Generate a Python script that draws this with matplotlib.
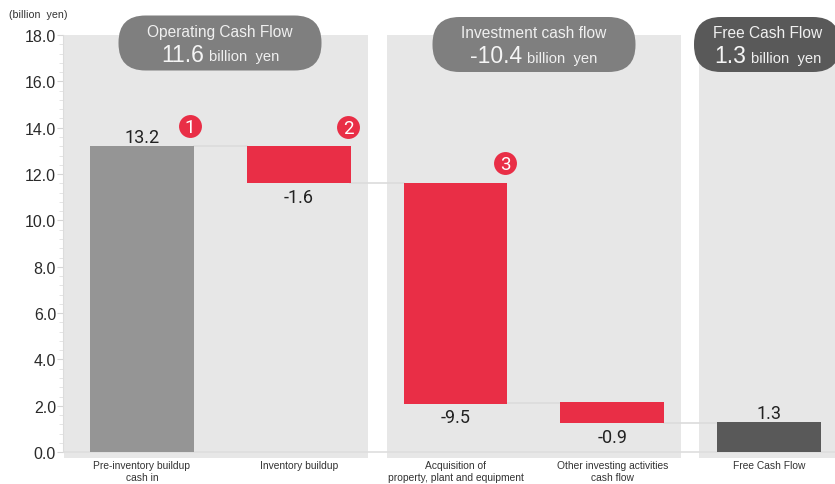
import matplotlib
matplotlib.use("Agg")
from matplotlib import pyplot as plt
from matplotlib.patches import FancyBboxPatch, Rectangle
from matplotlib.transforms import Affine2D

categories = ["Pre-inventory buildup\ncash in", "Inventory buildup",
              "Acquisition of\nproperty, plant and equipment",
              "Other investing activities\ncash flow", "Free Cash Flow"]
bar_bottoms = [0.0, 11.6, 2.1, 1.25, 0.0]
bar_heights = [13.2, 1.6, 9.5, 0.9, 1.3]
value_labels = ["13.2", "-1.6", "-9.5", "-0.9", "1.3"]
bar_colors = ["#959595", "#e92e46", "#e92e46", "#e92e46", "#595959"]
connector_levels = [13.2, 11.6, 2.12, 1.28]

pill_titles = ["Operating Cash Flow", "Investment cash flow", "Free Cash Flow"]
pill_values = ["11.6", "-10.4", "1.3"]
pill_colors = ["#7f7f7f", "#7f7f7f", "#595959"]

W, H = 835, 485
Y0, PX_UNIT = 453.2, 23.18


def x_data(px):
    return (px - 142) / 156.75


def y_data(py):
    return (Y0 - py) / PX_UNIT


fig = plt.figure(figsize=(W / 100, H / 100), dpi=100)
ax = fig.add_axes([63 / W, 1 - 459 / H, (W - 63) / W, (459 - 36) / H])
ax.set_xlim(x_data(63), x_data(835))
ax.set_ylim(y_data(459), 18)

# grey bands behind each group of bars
for left, right in [(64, 368), (387, 681), (699, 835)]:
    ax.add_patch(Rectangle((x_data(left), y_data(459)), x_data(right) - x_data(left),
                           18 - y_data(459), color="#e7e7e7", lw=0, zorder=0))

ax.axhline(0, color="#dedede", lw=1.2, zorder=1)

xs = list(range(len(categories)))
ax.bar(xs, bar_heights, bottom=bar_bottoms, width=0.663, color=bar_colors,
       edgecolor="none", zorder=3)

# connector lines between neighbouring bars
for i, level in enumerate(connector_levels):
    ax.plot([i + 0.33, i + 0.67], [level, level], color="#dcdcdc", lw=1.2, zorder=2)

value_font = ["Roboto", "DejaVu Sans"]
for i, lab in enumerate(value_labels):
    if lab.startswith("-"):
        ax.text(i, bar_bottoms[i] - 0.2, lab, ha="center", va="top", fontsize=13,
                family=value_font, color="#222222", zorder=4)
    else:
        ax.text(i, bar_bottoms[i] + bar_heights[i], lab, ha="center", va="bottom",
                fontsize=13, family=value_font, color="#222222", zorder=4)

# numbered markers
for num, px, py in [("1", 190, 127), ("2", 348, 128), ("3", 505, 164)]:
    ax.plot([x_data(px)], [y_data(py)], "o", ms=16.5, color="#e92e46", mew=0, zorder=5, clip_on=False)
    ax.text(x_data(px), y_data(py + 0.5), num, ha="center", va="center", fontsize=13.5,
            family=value_font, color="white", zorder=6)

# summary pills above the bands
pill_spans = [(118.5, 321.5, 16.5, 71.5), (432.5, 635.5, 18, 73), (694, 840, 18, 73)]
pill_centres = [220, 534, 768]
flip = Affine2D().scale(1, -1).translate(0, H)
r = fig.canvas.get_renderer()
for title, val, col, span, cx in zip(pill_titles, pill_values, pill_colors, pill_spans, pill_centres):
    left, right, y_top, y_bot = span
    pad = 27
    box = FancyBboxPatch((left + pad, y_top + pad), right - left - 2 * pad, y_bot - y_top - 2 * pad,
                         boxstyle="round,pad=%d,rounding_size=%d" % (pad, pad),
                         transform=flip, fc=col, ec="none", zorder=7, clip_on=False)
    ax.add_patch(box)
    fig.text(cx / W, 1 - (y_top + 15.5) / H, title, ha="center", va="center", fontsize=11.2,
             family="Liberation Sans", color="#f0f0f0", zorder=8)
    # big number followed by the unit, centred together
    big = fig.text(0, 1 - (y_top + 38.5) / H, val, ha="left", va="center", fontsize=16.5,
                   family="Liberation Sans", color="#f5f5f5", zorder=8)
    small = fig.text(0, 1 - (y_top + 41) / H, "billion  yen", ha="left", va="center", fontsize=10.6,
                     family="Liberation Sans", color="#f0f0f0", zorder=8)
    w1 = big.get_window_extent(r).width
    w2 = small.get_window_extent(r).width
    start = cx - (w1 + 5 + w2) / 2
    big.set_x(start / W)
    small.set_x((start + w1 + 5) / W)

for s in ["top", "right", "bottom"]:
    ax.spines[s].set_visible(False)
ax.spines["left"].set_bounds(0, 18)
ax.spines["left"].set_color("#dcdcdc")
ax.set_yticks([i * 2.0 for i in range(10)])
ax.set_yticklabels(["%.1f" % (i * 2.0) for i in range(10)], fontsize=11.5,
                   family="Liberation Sans", color="#2a2a2a")
ax.set_yticks([i * 0.4 for i in range(46)], minor=True)
ax.tick_params(axis="y", which="major", length=4, color="#d5d5d5", pad=1)
ax.tick_params(axis="y", which="minor", length=3, color="#e0e0e0")
ax.set_xticks([])

for i, cat in enumerate(categories):
    ax.text(i, y_data(461.5), cat, ha="center", va="top", fontsize=7.4, linespacing=1.2,
            family="Liberation Sans", color="#333333", clip_on=False)

fig.text(9 / W, 1 - 15 / H, "(billion  yen)", ha="left", va="center", fontsize=7.7,
         family="Liberation Sans", color="#333333")

fig.savefig("out.png", dpi=100)
